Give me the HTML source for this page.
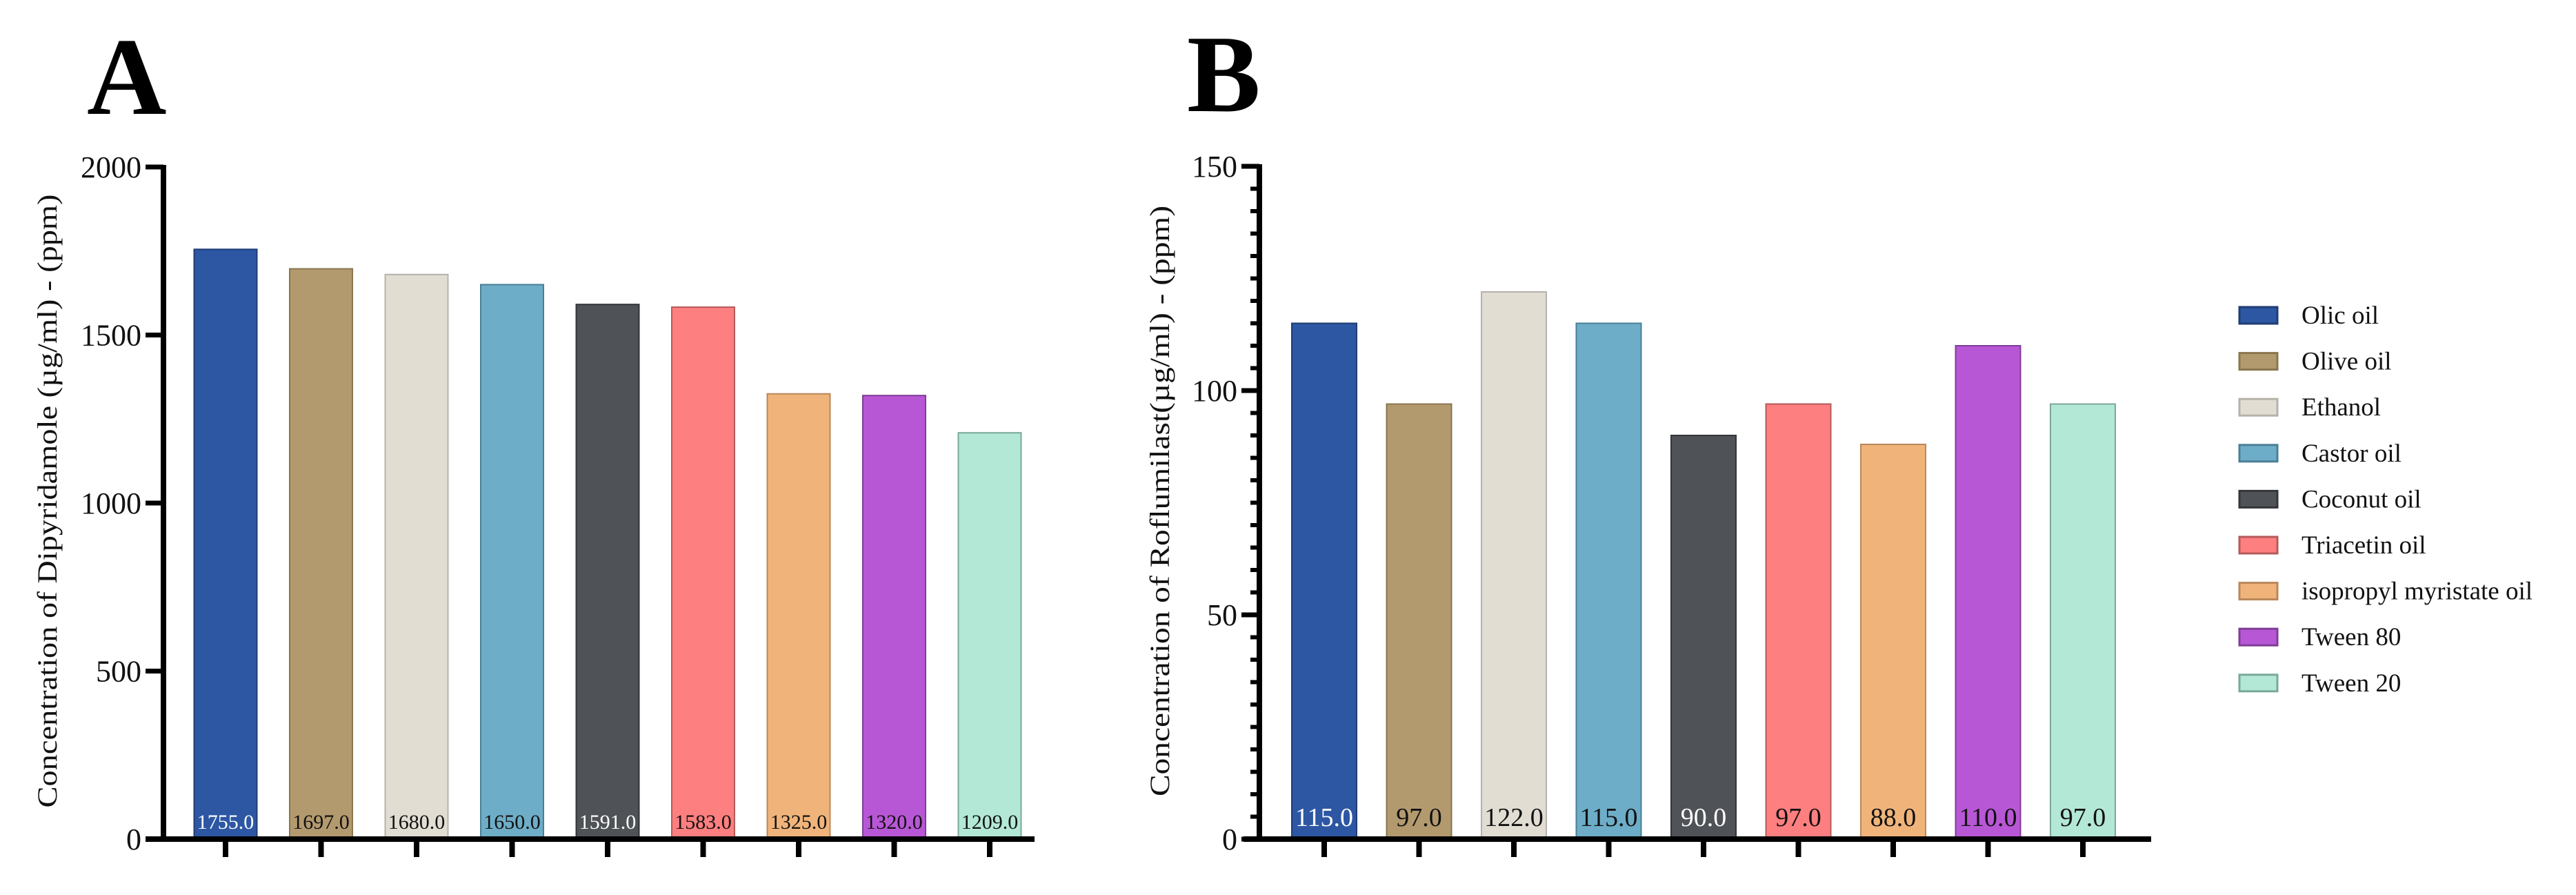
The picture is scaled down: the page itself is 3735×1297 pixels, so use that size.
<!DOCTYPE html>
<html><head><meta charset="utf-8"><style>
html,body{margin:0;padding:0;background:#fff;}
svg{display:block;font-family:"Liberation Serif",serif;}
</style></head><body>
<svg id="chart" width="3735" height="1297" viewBox="0 0 3735 1297" xmlns="http://www.w3.org/2000/svg">
<text x="126" y="165" font-size="160" font-weight="bold">A</text>
<text x="1721" y="161" font-size="160" font-weight="bold">B</text>
<g id="ga"></g>
<g id="gb"></g>
<g id="legend"></g>
</svg>
<script>
const categories = ["Olic oil","Olive oil","Ethanol","Castor oil","Coconut oil","Triacetin oil","isopropyl myristate oil","Tween 80","Tween 20"];
const valuesA = [1755,1697,1680,1650,1591,1583,1325,1320,1209];
const valuesB = [115,97,122,115,90,97,88,110,97];
const ticksA = [0,500,1000,1500,2000];
const ticksB = [0,50,100,150];
const colors = ["#2d57a3","#b39a6e","#e1ddd3","#6eadc8","#4f5256","#fe7f7f","#f0b47b","#b857d6","#b3e8d6"];
const strokes = ["#1f3d73","#8a7550","#b5b2aa","#4a7f95","#333538","#b55a5a","#b9875a","#7f3d95","#7aa899"];
const lightText = [true,false,false,false,true,false,false,false,false];
const NS="http://www.w3.org/2000/svg";
function mk(tag,attrs,parent,text){const e=document.createElementNS(NS,tag);for(const k in attrs)e.setAttribute(k,attrs[k]);if(text!==undefined)e.textContent=text;parent.appendChild(e);return e;}

function drawChart(g, vals, ticks, cfg){
  const y = v => cfg.y0 - (v - 0) / (cfg.max) * (cfg.y0 - cfg.yTop);
  const x = i => cfg.x0 + i * cfg.step;
  vals.forEach((v,i)=>{
    const r=mk('rect',{x:x(i)-cfg.bw/2,y:y(v),width:cfg.bw,height:y(0)-y(v),fill:colors[i],stroke:strokes[i],'stroke-width':2},g);
    
    
    const t=mk('text',{x:x(i),y:cfg.labelY,'text-anchor':'middle','font-size':cfg.valFs,fill:lightText[i]?'#ffffff':'#111111'},g,v.toFixed(1));
    
    
    const tk=mk('line',{x1:x(i),x2:x(i),y1:y(0),y2:cfg.y0+26,stroke:'#000','stroke-width':8},g);
    
    
  });
  if(cfg.minor){
    for(let v=0; v<=cfg.max; v+=cfg.minor){
      const m=mk('line',{x1:cfg.ax-13,x2:cfg.ax,y1:y(v),y2:y(v),stroke:'#000','stroke-width':6},g);
      
      
    }
  }
  ticks.forEach(v=>{
    const l=mk('line',{x1:cfg.ax-26,x2:cfg.ax,y1:y(v),y2:y(v),stroke:'#000','stroke-width':7},g);
    
    
    const t=mk('text',{x:cfg.ax-32,y:y(v)+15,'text-anchor':'end','font-size':44,fill:'#111'},g,String(v));
    
    
  });
  const ya=mk('line',{x1:cfg.ax,x2:cfg.ax,y1:cfg.yTop-3,y2:cfg.y0+3,stroke:'#000','stroke-width':8},g);
  
  
  const xa=mk('line',{x1:cfg.axStart,x2:cfg.axEnd,y1:cfg.y0,y2:cfg.y0,stroke:'#000','stroke-width':8},g);
  
  
  const yl=mk('text',{x:0,y:0,'text-anchor':'middle','font-size':40,fill:'#111',textLength:cfg.titleLen,lengthAdjust:'spacingAndGlyphs',transform:`translate(${cfg.titleX},${cfg.titleY}) rotate(-90)`},g,cfg.title);
  
  
}

drawChart(document.getElementById('ga'), valuesA, ticksA, {
  x0:327, step:138.5, bw:91, y0:1216, yTop:242, max:2000, ax:237, axStart:211, axEnd:1500,
  labelY:1201, valFs:30, title:"Concentration of Dipyridamole (µg/ml) - (ppm)", titleX:82, titleY:726, titleLen:889
});
drawChart(document.getElementById('gb'), valuesB, ticksB, {
  x0:1920, step:137.5, bw:94, y0:1216, yTop:241, max:150, minor:5, ax:1826, axStart:1803, axEnd:3119,
  labelY:1197, valFs:38, title:"Concentration of Roflumilast(µg/ml) - (ppm)", titleX:1695, titleY:726, titleLen:856
});

const lg=document.getElementById('legend');
categories.forEach((c,i)=>{
  const yy=457+i*66.6;
  const r=mk('rect',{x:3247,y:yy-12,width:55,height:24,fill:colors[i],stroke:strokes[i],'stroke-width':3},lg);
  
  
  const t=mk('text',{x:3337,y:yy+12,'font-size':37,fill:'#111'},lg,c);
  
  
});
</script>
</body></html>
